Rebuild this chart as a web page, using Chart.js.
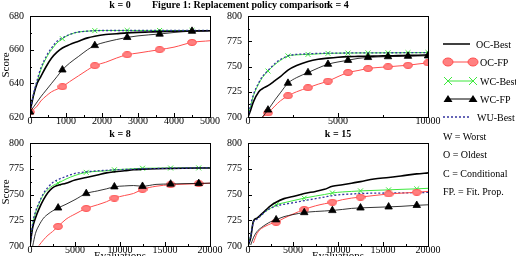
<!DOCTYPE html>
<html>
<head>
<meta charset="utf-8">
<script src="https://cdn.jsdelivr.net/npm/chart.js@4.4.0/dist/chart.umd.min.js"></script>
<style>
  body { margin: 0; background: #fff; }
  #fig { position: relative; width: 516px; height: 256px; overflow: hidden; font-family: "Liberation Serif", "Times New Roman", serif; color: #000; }
  canvas { position: absolute; }
  .t { position: absolute; white-space: nowrap; line-height: 1; }
  .ttl { font-weight: bold; font-size: 10px; }
  .c { transform: translateX(-50%); }
  .axl { font-size: 11px; }
  .rot { transform: translate(-50%, -50%) rotate(-90deg); }
</style>
</head>
<body>
<div id="fig">
  <canvas id="c0" width="228" height="131" style="left:-2px;top:4px"></canvas>
  <canvas id="c1" width="228" height="131" style="left:216px;top:4px"></canvas>
  <canvas id="c2" width="228" height="133" style="left:-2px;top:131px"></canvas>
  <canvas id="c3" width="228" height="133" style="left:216px;top:131px"></canvas>

  <div class="t ttl c" style="left:120px;top:0px">k = 0</div>
  <div class="t ttl" style="left:152px;top:0px">Figure 1: Replacement policy comparison</div>
  <div class="t ttl c" style="left:338px;top:0px">k = 4</div>
  <div class="t ttl c" style="left:120px;top:129px">k = 8</div>
  <div class="t ttl c" style="left:338px;top:129px">k = 15</div>

  <div class="t axl rot" style="left:5px;top:65px">Score</div>
  <div class="t axl rot" style="left:5px;top:192px">Score</div>
  <div class="t axl c" style="left:120px;top:250px">Evaluations</div>
  <div class="t axl c" style="left:338px;top:250px">Evaluations</div>

  <svg width="516" height="256" style="position:absolute;left:0;top:0">
    <g font-family="Liberation Serif, Times New Roman, serif" font-size="10" fill="#000">
      <line x1="443" y1="44" x2="470" y2="44" stroke="#000" stroke-width="1.5"/>
      <text x="476" y="47.5">OC-Best</text>

      <line x1="448" y1="62" x2="473" y2="62" stroke="#ff4d4d"/>
      <ellipse cx="448" cy="62" rx="5" ry="4" fill="#ff8080" stroke="#ff4d4d"/>
      <ellipse cx="473" cy="62" rx="5" ry="4" fill="#ff8080" stroke="#ff4d4d"/>
      <text x="480" y="65.5">OC-FP</text>

      <line x1="448" y1="81" x2="473" y2="81" stroke="#3ee83e"/>
      <path d="M444 77 L452 85 M444 85 L452 77 M469 77 L477 85 M469 85 L477 77" stroke="#3ee83e" fill="none"/>
      <text x="480" y="84.5">WC-Best</text>

      <line x1="448" y1="99" x2="473" y2="99" stroke="#000"/>
      <path d="M448 95 L452.5 102 L443.5 102 Z M473 95 L477.5 102 L468.5 102 Z" fill="#000"/>
      <text x="480" y="102.5">WC-FP</text>

      <line x1="443" y1="117" x2="470" y2="117" stroke="#33339e" stroke-width="1.3" stroke-dasharray="2,2"/>
      <text x="477" y="120.5">WU-Best</text>

      <text x="443" y="139.5">W = Worst</text>
      <text x="443" y="157.5">O = Oldest</text>
      <text x="443" y="176.5">C = Conditional</text>
      <text x="443" y="195">FP. = Fit. Prop.</text>
    </g>
  </svg>
</div>

<script>
// k = 0
const k0X = [0, 100, 200, 300, 450, 600, 750, 900, 1100, 1350, 1600, 1800, 2100, 2400, 2700, 3000, 3300, 3600, 4000, 4500, 5000];
const k0OCBest = [623, 633, 640, 644, 650, 655, 658.5, 661, 663, 665, 667, 668, 669, 669.5, 670, 670.3, 670.5, 670.7, 670.9, 671.1, 671.2];
const k0OCFP = [623, 624.5, 626.5, 629.5, 632.5, 635, 636.5, 638, 641, 644.5, 648, 650.5, 652.5, 655, 657, 658, 659, 660, 661.5, 664.3, 665.3];
const k0WCBest = [623, 633, 641, 648, 655, 660, 664, 666.5, 669, 670.5, 671, 671.3, 671.4, 671.4, 671.4, 671.4, 671.4, 671.4, 671.4, 671.4, 671.4];
const k0WCFP = [623, 626, 629, 632, 636, 640, 644, 648, 652, 656, 660, 662.5, 664.5, 666, 667.3, 668.2, 668.8, 669.3, 670.2, 671, 671.2];
const k0WUBest = [623, 634, 642, 649, 656, 661, 665, 667, 669, 670.5, 671, 671.3, 671.4, 671.4, 671.4, 671.4, 671.4, 671.4, 671.4, 671.4, 671.4];
const k0Marks = [0, 900, 1800, 2700, 3600, 4500];
const k0XTicks = [0, 1000, 2000, 3000, 4000, 5000];
const k0YTicks = [620, 640, 660, 680];

// k = 4
const k4X = [0, 150, 300, 600, 800, 1111, 1500, 1800, 2222, 2700, 3333, 3900, 4444, 5000, 5556, 6111, 6667, 7222, 7778, 8333, 8889, 9444, 10000];
const k4OCBest = [700, 707, 715, 725, 728, 731, 736, 740, 746.5, 751, 755, 757.2, 758.3, 759.2, 759.8, 760, 760.2, 760.4, 760.6, 760.8, 761, 761.2, 761.5];
const k4OCFP = [null, null, null, null, 700, 704, 711, 716, 721, 725, 729, 732.5, 735.5, 740, 744, 746, 748, 749, 749.7, 750.5, 751.2, 752.5, 753.6];
const k4WCBest = [700, 711, 721, 733, 739, 745.5, 752, 756, 760.5, 761.5, 762, 762.5, 763, 763.2, 763.3, 763.4, 763.5, 763.5, 763.6, 763.6, 763.7, 763.7, 763.8];
const k4WCFP = [null, null, null, null, 700, 707, 717, 724, 733.5, 739, 744, 748.5, 752.3, 754.5, 756.2, 758, 759, 759.5, 759.8, 760, 760.2, 760.4, 760.6];
const k4WUBest = [700, 712, 722, 734, 740, 746, 753, 757, 760.5, 762, 762.5, 763, 763.2, 763.3, 763.4, 763.5, 763.5, 763.5, 763.6, 763.6, 763.7, 763.7, 763.8];
const k4Marks = [1111, 2222, 3333, 4444, 5556, 6667, 7778, 8889, 10000];
const k4XTicks = [0, 5000, 10000];
const k4YTicks = [700, 725, 750, 775, 800];

// k = 8
const k8X = [0, 300, 600, 1000, 1500, 2000, 2500, 3125, 4000, 5000, 6250, 7500, 8500, 9375, 10500, 11500, 12500, 14000, 15625, 17000, 18750, 20000];
const k8OCBest = [700, 718, 727, 736, 745, 752, 756.5, 759, 761, 764, 766.5, 769, 771, 772, 773, 774, 774.5, 775, 775.3, 775.5, 775.7, 775.8];
const k8OCFP = [null, null, null, 700.5, 706, 710.5, 714, 719, 726, 731, 736.5, 740, 743, 746.5, 749, 751, 755, 758, 759.5, 760, 760.5, 761];
const k8WCBest = [700, 721, 732, 741, 750, 755, 758.5, 761, 765, 768.5, 771.5, 772.5, 773, 774, 774.5, 775, 775.5, 775.6, 775.7, 775.8, 775.8, 776];
const k8WCFP = [null, 700, 712, 720, 727, 731, 734, 737, 740.5, 745, 751, 753.5, 755.5, 757.5, 758.3, 758.7, 758, 759.8, 760.2, 760.5, 760.8, 761];
const k8WUBest = [700, 722, 733, 742, 751, 757, 761.5, 764.5, 767.5, 770.5, 772, 773, 773.5, 774, 774.3, 774.6, 775, 775.2, 775.5, 775.7, 775.8, 776];
const k8Marks = [3125, 6250, 9375, 12500, 15625, 18750];
const k8XTicks = [0, 5000, 10000, 15000, 20000];
const k8YTicks = [700, 725, 750, 775, 800];

// k = 15
const k15X = [0, 300, 600, 1000, 1500, 2000, 2500, 3125, 4000, 5000, 6250, 7500, 8500, 9375, 10500, 11500, 12500, 14000, 15625, 17000, 18750, 20000];
const k15OCBest = [700, 708, 724, 727, 731, 735, 739, 742.5, 746, 748, 751, 753, 755, 758, 759.5, 761, 762.5, 765, 766.5, 768, 770, 771];
const k15OCFP = [null, null, 703, 712, 717, 719.5, 721.5, 723, 727, 731, 735.5, 739, 741, 742.5, 745, 746.5, 747.5, 749, 750.5, 751.3, 752.2, 753];
const k15WCBest = [700, 710, 724, 727, 730, 734, 736.5, 740, 742, 744, 746.5, 748.5, 750, 751.5, 752.5, 753, 753.5, 754, 754.5, 755, 755.5, 756];
const k15WCFP = [null, 701, 708, 714, 718, 721, 723.5, 725.5, 728.5, 730.5, 732.5, 733.5, 734, 734.5, 735.5, 736.5, 737, 737.5, 738, 738.5, 739.5, 740];
const k15WUBest = [700, 710, 723, 726, 730, 734, 736.5, 739, 740.5, 742, 744, 746, 747.5, 749, 750, 750.5, 751, 751.3, 751.5, 751.6, 751.8, 752];
const k15Marks = [3125, 6250, 9375, 12500, 15625, 18750];
const k15XTicks = [0, 5000, 10000, 15000, 20000];
const k15YTicks = [700, 725, 750, 775, 800];

Chart.defaults.font.family = '"Liberation Serif", "Times New Roman", serif';
Chart.defaults.font.size = 10;
Chart.defaults.color = '#000';

function ellipseMark() {
    const c = document.createElement('canvas');
    c.width = 10;
    c.height = 7;
    const g = c.getContext('2d');
    g.fillStyle = '#ff8080';
    g.strokeStyle = '#ff4d4d';
    g.beginPath();
    g.ellipse(5, 3.5, 4.3, 2.9, 0, 0, Math.PI * 2);
    g.fill();
    g.stroke();
    return c;
}

const STYLE = {
    ocBest: { borderColor: '#000', borderWidth: 1.6 },
    ocFP: { borderColor: '#ff4d4d', borderWidth: 1, pointStyle: ellipseMark(), markSize: 4 },
    wcBest: { borderColor: '#3ee83e', borderWidth: 1, pointStyle: 'crossRot', markSize: 3.5, pointBorderColor: '#3ee83e', pointBorderWidth: 1 },
    wcFP: { borderColor: '#000', borderWidth: 0.8, pointStyle: 'triangle', markSize: 4.3, pointBackgroundColor: '#000', pointBorderColor: '#000' },
    wuBest: { borderColor: '#33339e', borderWidth: 1.3, borderDash: [2, 2] }
};

function line(label, xs, ys, style, marks) {
    return Object.assign({
        label: label,
        data: xs.map((x, i) => ({ x: x, y: ys[i] })),
        fill: false,
        cubicInterpolationMode: 'monotone',
        pointRadius: ctx => (style.markSize && ctx.raw && ctx.raw.y !== null && marks.includes(ctx.raw.x)) ? style.markSize : 0,
        pointHoverRadius: 0
    }, style);
}

// box round the plot plus inward major / minor ticks
const framePlugin = {
    id: 'frame',
    afterDatasetsDraw(chart, args, opts) {
        const { ctx, chartArea: a, scales: { x, y } } = chart;
        ctx.save();
        ctx.strokeStyle = '#000';
        ctx.lineWidth = 1;
        ctx.strokeRect(Math.round(a.left) + 0.5, Math.round(a.top) + 0.5, Math.round(a.width), Math.round(a.height));
        ctx.beginPath();
        const xMinor = opts.xStep / 2;
        for (let i = 0; x.min + i * xMinor <= x.max + 1e-6; i++) {
            const px = Math.round(x.getPixelForValue(x.min + i * xMinor)) + 0.5;
            const len = i % 2 === 0 ? 4 : 2;
            ctx.moveTo(px, a.bottom);
            ctx.lineTo(px, a.bottom - len);
        }
        const yMinor = opts.yStep / 2;
        for (let i = 0; y.min + i * yMinor <= y.max + 1e-6; i++) {
            const py = Math.round(y.getPixelForValue(y.min + i * yMinor)) + 0.5;
            const len = i % 2 === 0 ? 4 : 2;
            ctx.moveTo(a.left, py);
            ctx.lineTo(a.left + len, py);
        }
        ctx.stroke();
        ctx.restore();
    }
};

function panel(id, xs, marks, s, xTicks, yTicks) {
    const datasets = [
        line('WC-FP', xs, s.wcFP, STYLE.wcFP, marks),
        line('OC-FP', xs, s.ocFP, STYLE.ocFP, marks),
        line('WU-Best', xs, s.wuBest, STYLE.wuBest, marks),
        line('OC-Best', xs, s.ocBest, STYLE.ocBest, marks),
        line('WC-Best', xs, s.wcBest, STYLE.wcBest, marks)
    ];
    new Chart(document.getElementById(id), {
        type: 'line',
        data: { datasets: datasets },
        options: {
            responsive: false,
            animation: false,
            devicePixelRatio: 1,
            layout: { padding: { top: 8, right: 16, left: 0, bottom: 0 } },
            plugins: {
                legend: { display: false },
                tooltip: { enabled: false },
                frame: { xStep: xTicks[1] - xTicks[0], yStep: yTicks[1] - yTicks[0] }
            },
            scales: {
                x: {
                    type: 'linear',
                    min: xTicks[0],
                    max: xTicks[xTicks.length - 1],
                    grid: { display: false, drawTicks: false },
                    border: { display: false },
                    ticks: { padding: -2, maxRotation: 0, autoSkip: false, callback: v => String(v) },
                    afterBuildTicks: sc => { sc.ticks = xTicks.map(v => ({ value: v })); },
                    afterFit: sc => { sc.height = 18; }
                },
                y: {
                    min: yTicks[0],
                    max: yTicks[yTicks.length - 1],
                    grid: { display: false, drawTicks: false },
                    border: { display: false },
                    ticks: { padding: 6, autoSkip: false, callback: v => String(v) },
                    afterBuildTicks: sc => { sc.ticks = yTicks.map(v => ({ value: v })); },
                    afterFit: sc => { sc.width = 32; }
                }
            }
        },
        plugins: [framePlugin]
    });
}

panel('c0', k0X, k0Marks, { ocBest: k0OCBest, ocFP: k0OCFP, wcBest: k0WCBest, wcFP: k0WCFP, wuBest: k0WUBest }, k0XTicks, k0YTicks);
panel('c1', k4X, k4Marks, { ocBest: k4OCBest, ocFP: k4OCFP, wcBest: k4WCBest, wcFP: k4WCFP, wuBest: k4WUBest }, k4XTicks, k4YTicks);
panel('c2', k8X, k8Marks, { ocBest: k8OCBest, ocFP: k8OCFP, wcBest: k8WCBest, wcFP: k8WCFP, wuBest: k8WUBest }, k8XTicks, k8YTicks);
panel('c3', k15X, k15Marks, { ocBest: k15OCBest, ocFP: k15OCFP, wcBest: k15WCBest, wcFP: k15WCFP, wuBest: k15WUBest }, k15XTicks, k15YTicks);
</script>
</body>
</html>
